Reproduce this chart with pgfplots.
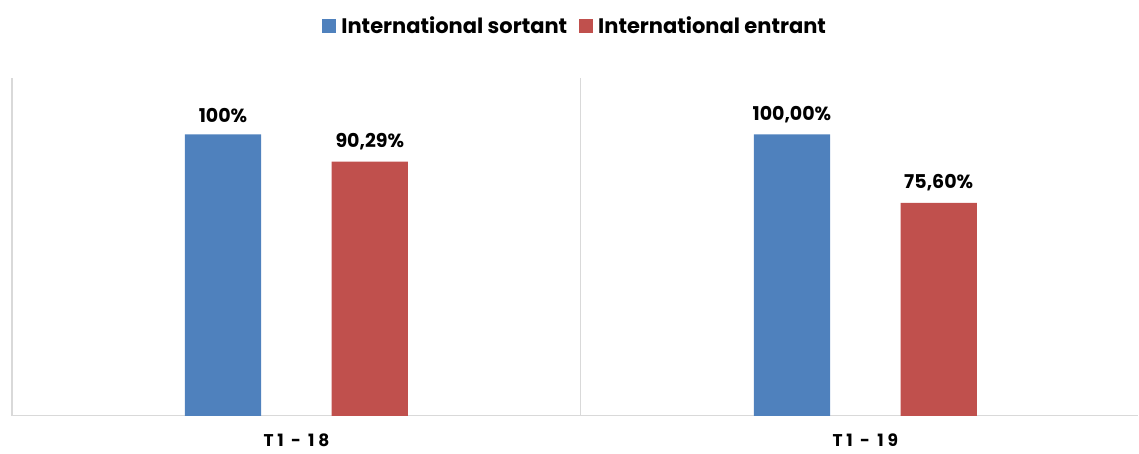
\documentclass[border=0pt]{standalone}
\usepackage{fontspec}
\setmainfont{Poppins}
\usepackage{pgfplots}
\pgfplotsset{compat=1.18}
\definecolor{cblue}{HTML}{4F81BD}
\definecolor{cred}{HTML}{C0504D}
\definecolor{cax}{HTML}{D9D9D9}
\begin{document}
\begin{tikzpicture}
\begin{axis}[
  scale only axis,
  width=1127pt, height=338pt,
  xmin=-0.5, xmax=1.48,
  ymin=0, ymax=120,
  axis x line*=bottom, axis y line*=left,
  axis line style={cax, line width=1.2pt, -},
  ytick=\empty,
  xtick={0,1},
  xticklabels={\addfontfeature{LetterSpace=22}T1 - 18, \addfontfeature{LetterSpace=22}T1 - 19},
  xtick style={draw=none},
  tick label style={font=\bfseries\fontsize{17}{20}\selectfont},
  xticklabel style={yshift=-10pt},
  extra x ticks={0.5},
  extra x tick labels={},
  extra x tick style={grid=major, major grid style={cax, line width=1.2pt}, tick style={draw=none}},
  ybar,
  bar width=0.134,
  clip=false,
  point meta=explicit symbolic,
  nodes near coords,
  nodes near coords style={font=\bfseries\fontsize{19}{22}\selectfont, black, yshift=8pt},
  legend style={at={(0.5,1)}, anchor=center, yshift=52pt, draw=none, fill=none,
    legend columns=2, font=\bfseries\fontsize{21}{24}\selectfont,
    /tikz/every odd column/.append style={column sep=3pt},
    /tikz/every even column/.append style={column sep=10pt}},
  legend image code/.code={\fill[#1] (0pt,-7pt) rectangle (14pt,7pt);},
]
\addplot[fill=cblue, draw=none, bar shift=-0.129] coordinates {(0,100) [100\%] (1,100) [100,00\%]};
\addlegendentry{International sortant}
\addplot[fill=cred, draw=none, bar shift=0.129] coordinates {(0,90.29) [90,29\%] (1,75.60) [75,60\%]};
\addlegendentry{International entrant}
\path ([xshift=-12pt,yshift=-38pt]rel axis cs:0,0) rectangle ([yshift=78pt]rel axis cs:1,1);
\end{axis}
\end{tikzpicture}
\end{document}
